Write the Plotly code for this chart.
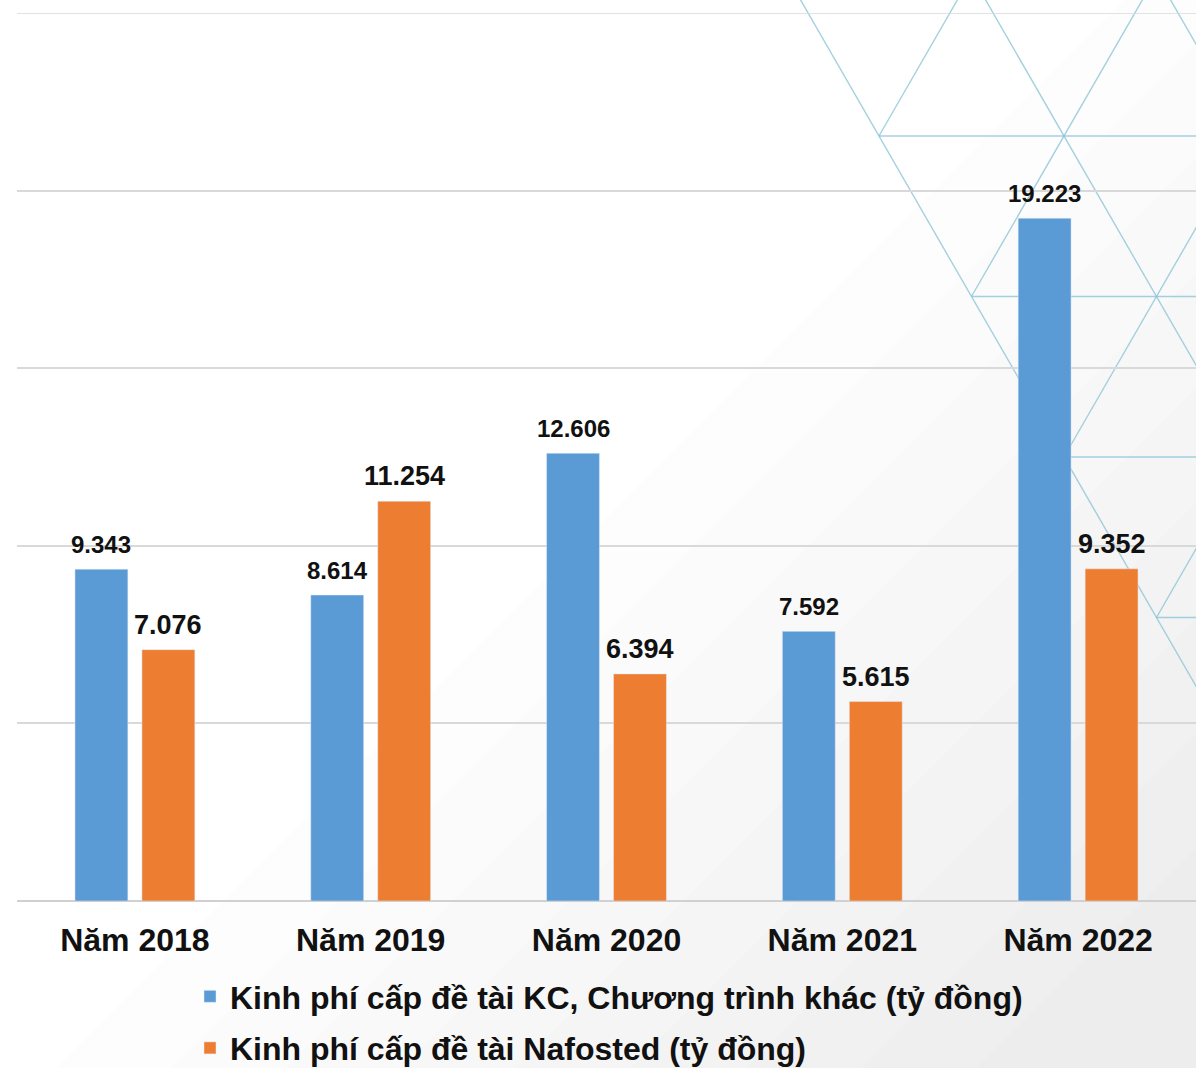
import plotly.graph_objects as go

# Chart data
years = ["Năm 2018", "Năm 2019", "Năm 2020", "Năm 2021", "Năm 2022"]
kc_funding = [9.343, 8.614, 12.606, 7.592, 19.223]
nafosted_funding = [7.076, 11.254, 6.394, 5.615, 9.352]
kc_name = "Kinh phí cấp đề tài KC, Chương trình khác (tỷ đồng)"
nafosted_name = "Kinh phí cấp đề tài Nafosted (tỷ đồng)"
y_max = 25

BLUE = "#5b9bd5"
ORANGE = "#ed7d31"
FONT = "Liberation Sans, Arial, sans-serif"

W, H = 1196, 1068
PL, PR, PT, PB = 17, 1196, 13, 901


def px(x):
    return (x - PL) / (PR - PL)


def py(y):
    return (PB - y) / (PB - PT)


fig = go.Figure()
fig.add_trace(go.Bar(
    x=years, y=kc_funding, name=kc_name, marker_color=BLUE,
    legendgroup="kc", hoverinfo="y",
))
fig.add_trace(go.Bar(
    x=years, y=nafosted_funding, name=nafosted_name, marker_color=ORANGE,
    legendgroup="naf", hoverinfo="y",
))

# Value labels above each bar
annotations = []
for yr, v in zip(years, kc_funding):
    annotations.append(dict(
        x=yr, y=v, xref="x", yref="y", text=f"{v:.3f}", showarrow=False,
        xshift=-33.5, yshift=9, yanchor="bottom",
        font=dict(family=FONT, size=24, color="#111", weight="bold"),
    ))
for yr, v in zip(years, nafosted_funding):
    annotations.append(dict(
        x=yr, y=v, xref="x", yref="y", text=f"{v:.3f}", showarrow=False,
        xshift=33.5, yshift=8, yanchor="bottom",
        font=dict(family=FONT, size=27, color="#111", weight="bold"),
    ))

shapes = []

# Soft grey shading towards the lower right corner
for i in range(9):
    a = 1150 - i * 115
    b = 1150 - i * 115
    path = (f"M{px(W + 5)},{py(H + 5)} L{px(W + 5 - a)},{py(H + 5)} "
            f"L{px(W + 5)},{py(H + 5 - b)} Z")
    shapes.append(dict(type="path", path=path, xref="paper", yref="paper",
                       fillcolor="rgba(0,0,0,0.0075)", line=dict(width=0),
                       layer="below"))

# Triangular lattice decoration in the upper right
LINE = dict(color="rgba(135,192,214,0.75)", width=1.4)
X0 = 800.6          # x where the lattice edge meets the top
SIDE = 185.0
ROW = 160.5
K = SIDE / 2 / ROW  # dx per dy along the slanted lines
ROW0 = 136.0

for n in range(3):
    xa = X0 + SIDE * n
    shapes.append(dict(type="line", xref="paper", yref="paper",
                       x0=px(xa - 20 * K), y0=py(-20),
                       x1=px(xa + 1100 * K), y1=py(1100),
                       line=LINE, layer="below"))

for k in range(4):
    yb = ROW0 + ROW * k
    xb = X0 + yb * K
    shapes.append(dict(type="line", xref="paper", yref="paper",
                       x0=px(xb), y0=py(yb), x1=px(W + 10), y1=py(yb),
                       line=LINE, layer="below"))
    ye = yb - (W + 10 - xb) / K
    shapes.append(dict(type="line", xref="paper", yref="paper",
                       x0=px(xb), y0=py(yb), x1=px(W + 10), y1=py(ye),
                       line=LINE, layer="below"))

# Top gridline sits on the edge of the plot area
shapes.append(dict(type="line", xref="paper", yref="y",
                   x0=0, x1=1, y0=y_max, y1=y_max,
                   line=dict(color="#d9d9d9", width=1.5), layer="below"))

fig.update_layout(
    width=W, height=H,
    margin=dict(l=PL, r=W - PR, t=PT, b=H - PB, autoexpand=False),
    paper_bgcolor="white",
    plot_bgcolor="rgba(0,0,0,0)",
    barmode="group",
    bargap=0.432,
    bargroupgap=0.21,
    font=dict(family=FONT, color="#111"),
    showlegend=True,
    legend=dict(
        orientation="v",
        x=px(190), xanchor="left",
        y=py(969), yanchor="top",
        bgcolor="rgba(0,0,0,0)",
        font=dict(family=FONT, size=32, color="#111", weight="bold"),
        tracegroupgap=7,
        traceorder="grouped",
        itemwidth=30,
    ),
    annotations=annotations,
    shapes=shapes,
    xaxis=dict(
        type="category",
        showgrid=False,
        showline=False,
        ticks="outside", ticklen=11, tickcolor="rgba(0,0,0,0)",
        tickfont=dict(family=FONT, size=32, color="#111", weight="bold"),
        fixedrange=True,
    ),
    yaxis=dict(
        range=[0, y_max],
        dtick=5,
        showticklabels=False,
        showgrid=True,
        gridcolor="#d9d9d9",
        gridwidth=1.5,
        zeroline=True,
        zerolinecolor="#d0d0d0",
        zerolinewidth=2,
        fixedrange=True,
    ),
)

fig.write_html("out.html")
